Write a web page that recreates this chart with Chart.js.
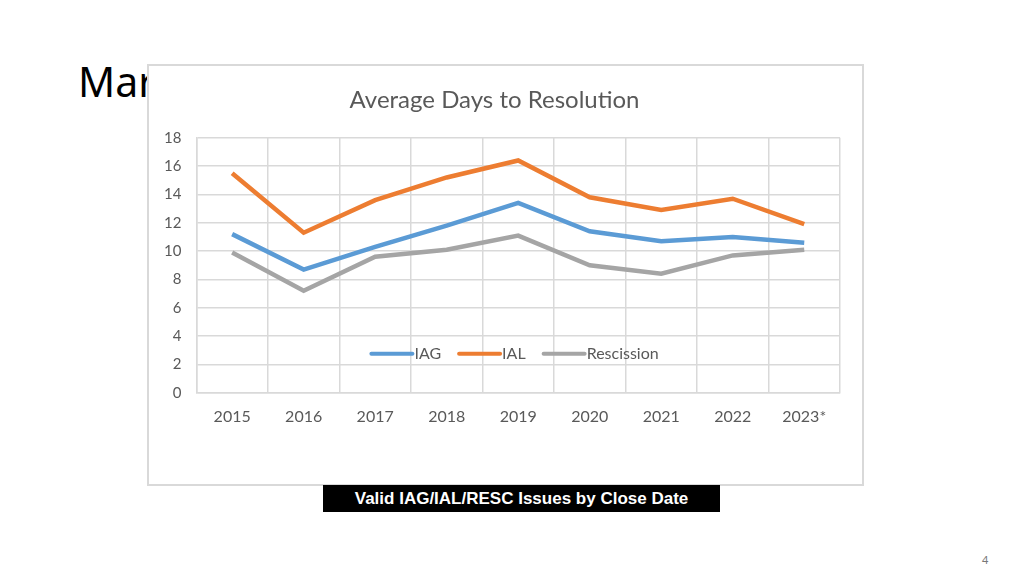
<!DOCTYPE html>
<html>
<head>
<meta charset="utf-8">
<script src="https://cdn.jsdelivr.net/npm/chart.js@4"></script>
<style>
body{margin:0;width:1024px;height:576px;background:#fff;position:relative;overflow:hidden;font-family:"Noto Sans",sans-serif}
#slideTitle{position:absolute;left:78px;top:55px;font-size:41px;color:#000;line-height:52px}
#box{position:absolute;left:147px;top:64px;width:713px;height:418px;background:#fff;border:2px solid #d9d9d9}
#caption{position:absolute;left:323px;top:485px;width:397px;height:27px;background:#000;color:#fff;font:bold 17px "Liberation Sans",Arial,sans-serif;line-height:27px;text-align:center}
#page{position:absolute;left:982px;top:552px;font-size:11px;color:#777}
</style>
</head>
<body>
<div id="slideTitle">Mar</div>
<div id="box"><canvas id="myChart"></canvas></div>
<div id="caption">Valid IAG/IAL/RESC Issues by Close Date</div>
<div id="page">4</div>
<script>
const years=["2015","2016","2017","2018","2019","2020","2021","2022","2023*"];
const iag=[11.2,8.7,10.3,11.8,13.4,11.4,10.7,11.0,10.6];
const ial=[15.5,11.3,13.6,15.2,16.4,13.8,12.9,13.7,11.9];
const rescission=[9.9,7.2,9.6,10.1,11.1,9.0,8.4,9.7,10.1];

// legend drawn inside plot area, like the excel chart
const innerLegend={
  id:'innerLegend',
  afterDatasetsDraw(chart){
    const ctx=chart.ctx;
    const area=chart.chartArea;
    const y=area.bottom-39;
    let x=area.left+175;
    ctx.save();
    ctx.font='16px Lato, "Open Sans", sans-serif';
    ctx.textBaseline='middle';
    chart.data.datasets.forEach(ds=>{
      ctx.strokeStyle=ds.borderColor;
      ctx.lineWidth=4;
      ctx.lineCap='round';
      ctx.beginPath();
      ctx.moveTo(x,y);ctx.lineTo(x+41,y);
      ctx.stroke();
      ctx.fillStyle='#595959';
      ctx.fillText(ds.label,x+43,y);
      x+=43+ctx.measureText(ds.label).width+18;
    });
    ctx.restore();
  }
};

const ctx=document.getElementById('myChart');
new Chart(ctx,{
  type:'line',
  data:{
    labels:years,
    datasets:[
      {label:'IAG',data:iag,borderColor:'#5b9bd5',borderWidth:4.5,pointRadius:0,tension:0},
      {label:'IAL',data:ial,borderColor:'#ed7d31',borderWidth:4.5,pointRadius:0,tension:0},
      {label:'Rescission',data:rescission,borderColor:'#a5a5a5',borderWidth:4.5,pointRadius:0,tension:0}
    ]
  },
  options:{
    responsive:true,
    maintainAspectRatio:false,
    animation:false,
    layout:{padding:{left:0,right:22,top:14,bottom:44}},
    plugins:{
      legend:{display:false},
      tooltip:{enabled:false},
      title:{display:true,text:'Average Days to Resolution',color:'#595959',
        font:{family:'Lato, "Open Sans", sans-serif',size:24,weight:'normal'},padding:{top:6,bottom:23}}
    },
    scales:{
      x:{
        offset:true,
        grid:{offset:true,color:'#d9d9d9',lineWidth:1.5,drawTicks:false},
        border:{color:'#d9d9d9',width:1.5},
        ticks:{color:'#595959',font:{family:'Lato, "Open Sans", sans-serif',size:16},padding:14}
      },
      y:{
        min:0,max:18,
        grid:{color:'#d9d9d9',lineWidth:1.5,drawTicks:false},
        border:{color:'#d9d9d9',width:1.5},
        ticks:{stepSize:2,color:'#595959',font:{family:'Lato, "Open Sans", sans-serif',size:15},padding:15}
      }
    }
  },
  plugins:[innerLegend]
});
</script>
</body>
</html>
